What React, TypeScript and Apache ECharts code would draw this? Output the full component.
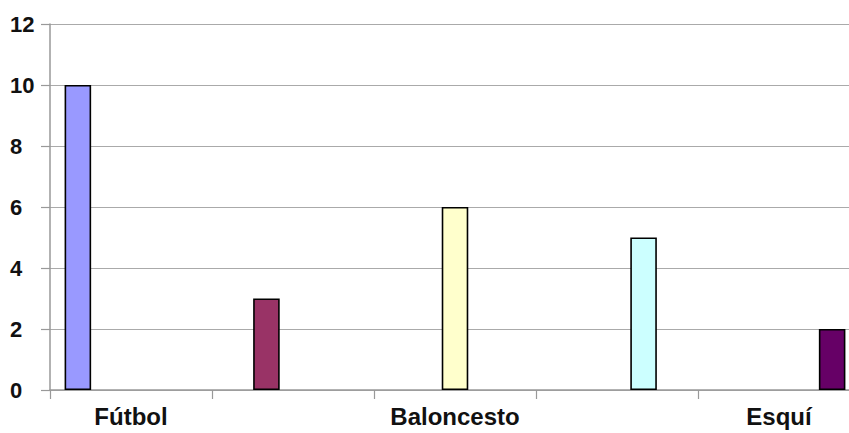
import React, { useEffect, useRef } from "react";
import * as echarts from "echarts";

const categories = ["Fútbol", "Tenis", "Baloncesto", "Natación", "Esquí"];
const seriesNames = ["Fútbol", "Tenis", "Baloncesto", "Natación", "Esquí"];
const values = [10, 3, 6, 5, 2];
const colors = ["#9999FF", "#993366", "#FFFFCC", "#CCFFFF", "#660066"];
const yTicks = { min: 0, max: 12, interval: 2 };

export default function App() {
  const ref = useRef<HTMLDivElement>(null);
  useEffect(() => {
    document.body.style.margin = "0";
    document.body.style.overflow = "hidden";
    document.documentElement.style.overflow = "hidden";
    const chart = echarts.init(ref.current!, null, { renderer: "svg" });
    const series = seriesNames.map((name, i) => ({
      name,
      type: "bar",
      data: categories.map((_, j) => (j === i ? values[i] : "-")),
      barGap: "0%",
      barCategoryGap: "18%",
      itemStyle: { color: colors[i], borderColor: "#000", borderWidth: 1.6 },
    }));
    chart.setOption({
      animation: false,
      grid: { left: 50, right: 0, top: 24, bottom: 43, containLabel: false },
      xAxis: {
        type: "category",
        data: categories,
        axisLine: { lineStyle: { color: "#999", width: 1.5 } },
        axisTick: { show: true, interval: 0, length: 9, lineStyle: { color: "#999", width: 1.2 } },
        axisLabel: {
          interval: 1,
          margin: 14,
          fontFamily: "Liberation Sans, Arial, sans-serif",
          fontWeight: "bold",
          fontSize: 24,
          color: "#111",
        },
      },
      yAxis: {
        type: "value",
        min: yTicks.min,
        max: yTicks.max,
        interval: yTicks.interval,
        axisLine: { show: true, lineStyle: { color: "#999", width: 1.5 } },
        axisTick: { show: true, length: 9, lineStyle: { color: "#999", width: 1.2 } },
        splitLine: { lineStyle: { color: "#aaa", width: 1.2 } },
        axisLabel: {
          align: "left",
          margin: 40,
          fontFamily: "Liberation Sans, Arial, sans-serif",
          fontWeight: "bold",
          fontSize: 22,
          color: "#111",
        },
      },
      series,
    });
    return () => chart.dispose();
  }, []);
  return <div ref={ref} style={{ width: 860, height: 433 }} />;
}
